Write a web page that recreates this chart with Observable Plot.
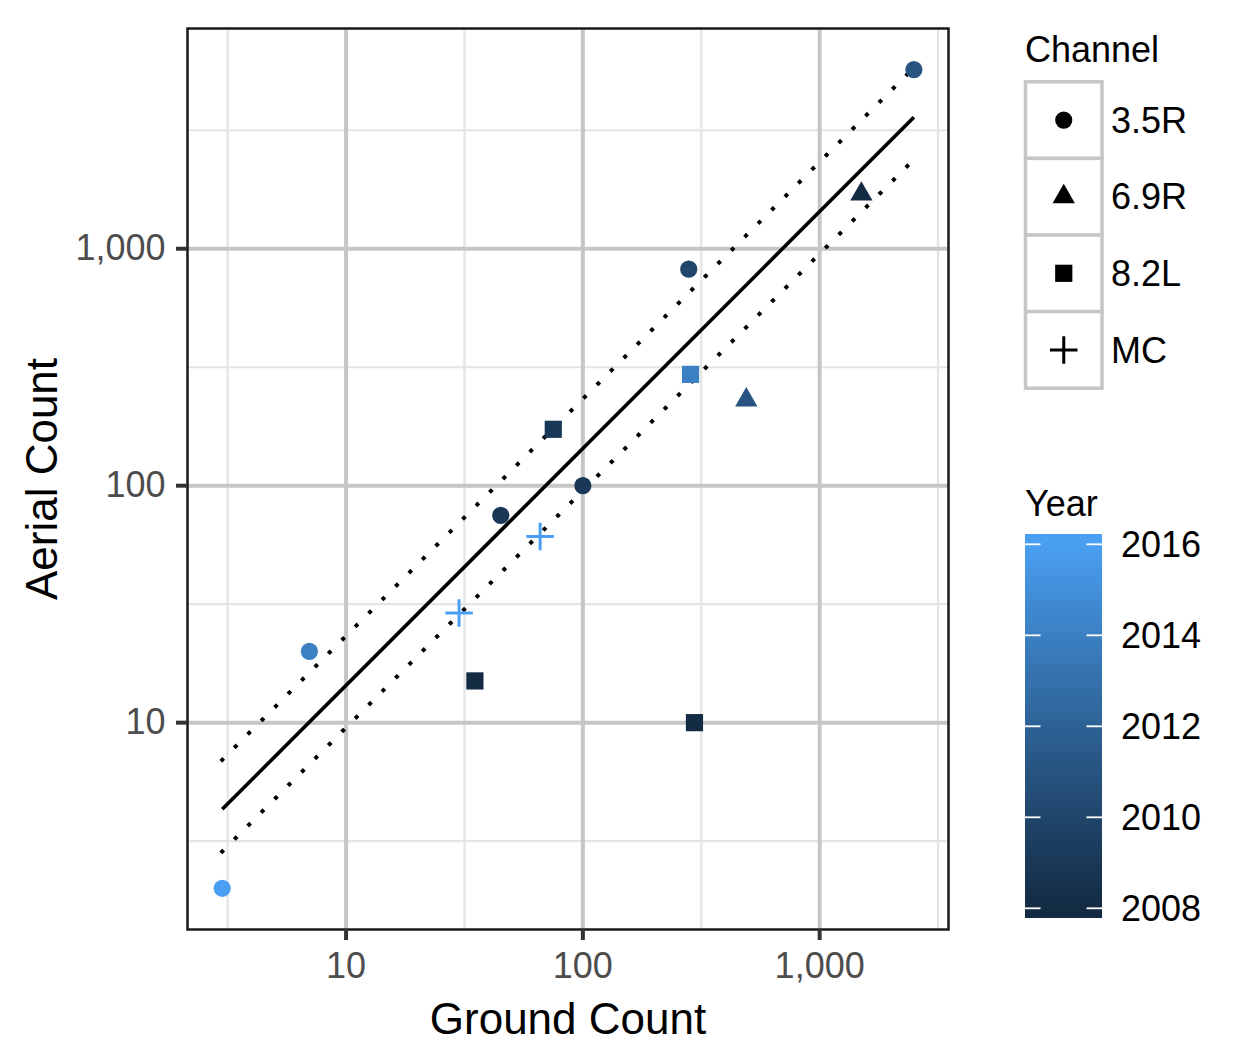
<!DOCTYPE html>
<html><head><meta charset="utf-8">
<script src="https://cdn.jsdelivr.net/npm/d3@7"></script>
<script src="https://cdn.jsdelivr.net/npm/@observablehq/plot@0.6"></script>
<style>
html,body{margin:0;padding:0;background:#fff;}
#wrap{position:relative;width:1248px;height:1056px;font-family:"Liberation Sans",Arial,Helvetica,sans-serif;}
#chart{position:absolute;left:0;top:0;}
#legend{position:absolute;left:0;top:0;}
</style></head><body>
<div id="wrap"><div id="chart"></div><svg id="legend" width="1248" height="1056"></svg></div>
<script>
// ---- data ----
const groundCount = [2500, 1500, 280, 285, 490, 75, 100, 45, 66, 30, 7, 35, 296, 3];
const aerialCount = [5700, 1700, 820, 295, 230, 173, 100, 75, 61, 29, 20, 15, 10, 2];
const channel = ["3.5R","6.9R","3.5R","8.2L","6.9R","8.2L","3.5R","3.5R","MC","MC","3.5R","8.2L","8.2L","3.5R"];
const year = [2011, 2008, 2010, 2014, 2011, 2009, 2009, 2009, 2016, 2016, 2014, 2008, 2008, 2016];

const channels = ["3.5R","6.9R","8.2L","MC"];
const yearTicks = [2008, 2010, 2012, 2014, 2016];

// fitted line and bounds (endpoints)
const fitX = [3, 2500];
const fitY = [4.31, 3590];
const upperY = [6.97, 5810];
const lowerY = [2.86, 2380];

const majorTicks = [10, 100, 1000];
const minorX = [3.162, 31.62, 316.2, 3162];
const minorY = [3.162, 31.62, 316.2, 3162];

const xDomain = [2.14, 3500];
const yDomain = [1.34, 8500];
const colorLow = "#132B43", colorHigh = "#4A9FF2";

// ---- build tables ----
const data = groundCount.map((g, i) => ({ground: g, aerial: aerialCount[i], channel: channel[i], year: year[i]}));
const fitData = fitX.map((x, i) => ({x, fit: fitY[i], upper: upperY[i], lower: lowerY[i]}));

const symR = 8.6;
const symCircle = {draw(ctx, size){const r = Math.sqrt(size/Math.PI); ctx.moveTo(r,0); ctx.arc(0,0,r,0,2*Math.PI);}};
const symSquare = {draw(ctx, size){const r = Math.sqrt(size/Math.PI); ctx.rect(-r,-r,2*r,2*r);}};
const symTriangle = {draw(ctx, size){const r = Math.sqrt(size/Math.PI)*1.5; ctx.moveTo(0,-r); ctx.lineTo(0.866*r, r/2); ctx.lineTo(-0.866*r, r/2); ctx.closePath();}};
const symPlus = {draw(ctx, size){const r = Math.sqrt(size/Math.PI)*1.6; ctx.moveTo(-r,0); ctx.lineTo(r,0); ctx.moveTo(0,-r); ctx.lineTo(0,r);}};
const syms = [symCircle, symTriangle, symSquare, symPlus];

const fmt = d3.format(",");
const FONT = "Liberation Sans, Arial, Helvetica, sans-serif";
const dotted = {stroke: "black", strokeWidth: 4, strokeLinecap: "square", strokeDasharray: "0.01,18.99"};

const plot = Plot.plot({
  width: 960, height: 1056,
  marginLeft: 187, marginRight: 12, marginTop: 28, marginBottom: 127,
  style: {fontFamily: FONT, background: "white"},
  x: {type: "log", domain: xDomain},
  y: {type: "log", domain: yDomain},
  color: {type: "linear", domain: [2008, 2016], range: [colorLow, colorHigh], interpolate: "lab"},
  marks: [
    Plot.ruleX(minorX, {stroke: "#e4e4e4", strokeWidth: 2.2}),
    Plot.ruleY(minorY, {stroke: "#e4e4e4", strokeWidth: 2.2}),
    Plot.ruleX(majorTicks, {stroke: "#c6c6c6", strokeWidth: 4}),
    Plot.ruleY(majorTicks, {stroke: "#c6c6c6", strokeWidth: 4}),
    Plot.line(fitData, {x: "x", y: "fit", stroke: "black", strokeWidth: 3.6, strokeLinecap: "butt"}),
    Plot.line(fitData, {x: "x", y: "upper", ...dotted}),
    Plot.line(fitData, {x: "x", y: "lower", ...dotted}),
    ...channels.slice(0, 3).map((c, i) => Plot.dot(data.filter(d => d.channel === c), {
      x: "ground", y: "aerial", symbol: syms[i], r: symR, fill: "year", stroke: "none"
    })),
    Plot.dot(data.filter(d => d.channel === "MC"), {
      x: "ground", y: "aerial", symbol: symPlus, r: symR, fill: "none", stroke: "year", strokeWidth: 3
    }),
    Plot.frame({stroke: "#1a1a1a", strokeWidth: 2.5}),
    Plot.axisX({ticks: majorTicks, tickFormat: fmt, tickSize: 11, tickPadding: 12, fontSize: 36,
      stroke: "#333", strokeWidth: 4, fill: "#4d4d4d", label: null}),
    Plot.axisY({ticks: majorTicks, tickFormat: fmt, tickSize: 11, tickPadding: 11, fontSize: 36,
      stroke: "#333", strokeWidth: 4, fill: "#4d4d4d", label: null}),
    Plot.text(["Ground Count"], {text: d => d, frameAnchor: "bottom", dy: 90, fontSize: 44, fill: "black",
      textAnchor: "middle", lineAnchor: "middle"}),
    Plot.text(["Aerial Count"], {text: d => d, frameAnchor: "left", dx: -145, rotate: -90, fontSize: 44, fill: "black",
      textAnchor: "middle", lineAnchor: "middle"})
  ]
});
document.getElementById("chart").appendChild(plot);

// ---- legends ----
const L = d3.select("#legend").style("font-family", FONT);
L.append("text").attr("x", 1025).attr("y", 62).attr("font-size", 36).attr("fill", "black").text("Channel");
const keyX = 1025.5, keyW = 76.5, keyTop = 81.8, keyH = 76.6;
channels.forEach((c, i) => {
  const y0 = keyTop + i * keyH;
  L.append("rect").attr("x", keyX).attr("y", y0).attr("width", keyW).attr("height", keyH)
    .attr("fill", "white").attr("stroke", "#c6c6c6").attr("stroke-width", 3.5);
});
channels.forEach((c, i) => {
  const cy = keyTop + i * keyH + keyH / 2, cx = keyX + keyW / 2;
  const p = L.append("path").attr("transform", `translate(${cx},${cy})`)
    .attr("d", d3.symbol(syms[i], symR * symR * Math.PI)());
  if (c === "MC") p.attr("fill", "none").attr("stroke", "black").attr("stroke-width", 3);
  else p.attr("fill", "black");
  L.append("text").attr("x", 1111).attr("y", cy).attr("dy", "0.35em").attr("font-size", 36).attr("fill", "black").text(c);
});

L.append("text").attr("x", 1025).attr("y", 516).attr("font-size", 36).attr("fill", "black").text("Year");
const barX = 1025, barW = 77, barTop = 534, barBot = 918;
const y2016 = 544.3, y2008 = 908.3;
const yScale = d3.scaleLinear().domain([2008, 2016]).range([y2008, y2016]);
const interp = d3.interpolateLab(colorLow, colorHigh);
const grad = L.append("defs").append("linearGradient").attr("id", "yearGrad")
  .attr("x1", 0).attr("y1", 1).attr("x2", 0).attr("y2", 0);
const offLo = (barBot - y2008) / (barBot - barTop), offHi = (barBot - y2016) / (barBot - barTop);
grad.append("stop").attr("offset", 0).attr("stop-color", interp(0));
for (let k = 0; k <= 20; k++) {
  grad.append("stop").attr("offset", offLo + (offHi - offLo) * k / 20).attr("stop-color", interp(k / 20));
}
grad.append("stop").attr("offset", 1).attr("stop-color", interp(1));
L.append("rect").attr("x", barX).attr("y", barTop).attr("width", barW).attr("height", barBot - barTop).attr("fill", "url(#yearGrad)");
yearTicks.forEach(yr => {
  const y = yScale(yr);
  L.append("line").attr("x1", barX).attr("x2", barX + 15.5).attr("y1", y).attr("y2", y).attr("stroke", "white").attr("stroke-width", 1.8);
  L.append("line").attr("x1", barX + barW - 15.5).attr("x2", barX + barW).attr("y1", y).attr("y2", y).attr("stroke", "white").attr("stroke-width", 1.8);
  L.append("text").attr("x", 1121).attr("y", y).attr("dy", "0.35em").attr("font-size", 36).attr("fill", "black").text(yr);
});
</script></body></html>
